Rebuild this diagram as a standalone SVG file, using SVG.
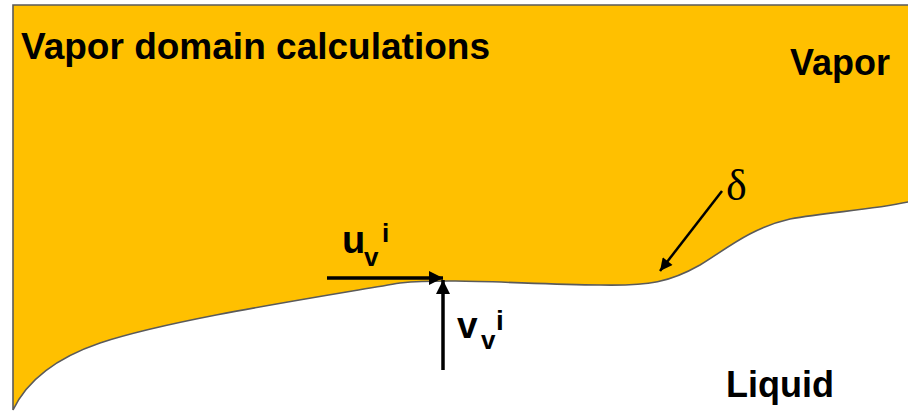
<svg xmlns="http://www.w3.org/2000/svg" width="908" height="411" viewBox="0 0 908 411">
  <defs>
    <style>
      .lbl { font-family: "Liberation Sans", Arial, sans-serif; font-weight: bold; fill: #000; }
      .serif { font-family: "Liberation Serif", "Times New Roman", serif; fill: #000; }
      .conn { stroke: #000; fill: none; }
    </style>
    <marker id="ah" viewBox="0 0 10 10" refX="10" refY="5" markerWidth="4.5" markerHeight="4" orient="auto" markerUnits="strokeWidth">
      <path d="M0,0 L10,5 L0,10 z" fill="#000"/>
    </marker>
    <marker id="ah2" viewBox="0 0 10 10" refX="10" refY="5" markerWidth="6" markerHeight="5" orient="auto" markerUnits="strokeWidth">
      <path d="M0,0 L10,5 L0,10 z" fill="#000"/>
    </marker>
  </defs>
  <rect width="908" height="411" fill="#fff"/>
  <g id="vapor-domain">
    <path d="M13,5 L910,5 L910,202 L908,202 C870,210 830,212 790,219 C750,228 725,250 700,265 C670,282 650,286 600,285 C520,284 450,278 400,283 C300,300 170,320 100,343 C50,360 25,385 13,410 Z" fill="#FFC000" stroke="#5a5a5a" stroke-width="1.6"/>
  </g>
  <g id="title">
    <text class="lbl" x="21" y="59" font-size="36" textLength="469" lengthAdjust="spacingAndGlyphs">Vapor domain calculations</text>
  </g>
  <g id="vapor-label">
    <text class="lbl" x="790" y="75" font-size="36">Vapor</text>
  </g>
  <g id="liquid-label">
    <text class="lbl" x="726" y="397" font-size="36">Liquid</text>
  </g>
  <g id="delta-label">
    <text class="serif" x="726" y="200" font-size="44">δ</text>
  </g>
  <g id="u-label">
    <text class="lbl" x="342" y="253" font-size="38">u</text>
    <text class="lbl" x="364" y="266" font-size="26">v</text>
    <text class="lbl" x="382" y="242" font-size="26">i</text>
  </g>
  <g id="v-label">
    <text class="lbl" x="457" y="338" font-size="37">v</text>
    <text class="lbl" x="481" y="349" font-size="26">v</text>
    <text class="lbl" x="496" y="330" font-size="28">i</text>
  </g>
  <g id="connectors">
    <line class="conn" x1="327" y1="278" x2="443" y2="278" stroke-width="3.5" marker-end="url(#ah)"/>
    <line class="conn" x1="443" y1="370" x2="443" y2="280" stroke-width="3.5" marker-end="url(#ah)"/>
    <line class="conn" x1="722" y1="191" x2="660" y2="271" stroke-width="2.5" marker-end="url(#ah2)"/>
  </g>
</svg>
